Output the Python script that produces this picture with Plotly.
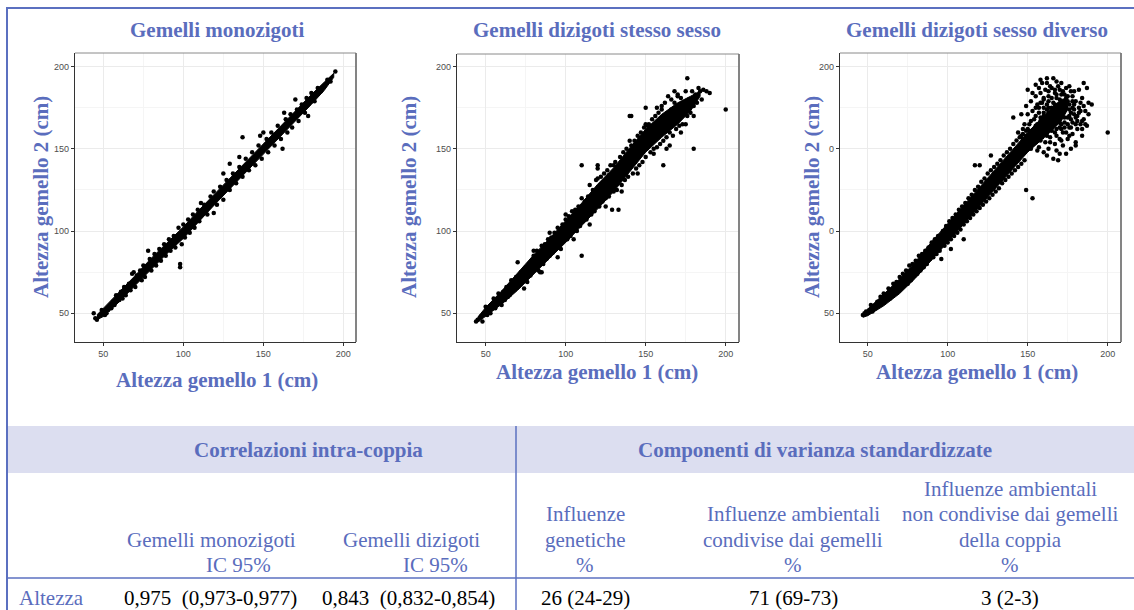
import plotly.graph_objects as go

W, H = 1134, 610

# ---------------- data ----------------
tick_vals = [50, 100, 150, 200]
tick_text_std = ["50", "100", "150", "200"]
tick_text_p3_y = ["50", "0", "0", "200"]

panel_titles = ["Gemelli monozigoti", "Gemelli dizigoti stesso sesso", "Gemelli dizigoti sesso diverso"]
x_title = "Altezza gemello 1 (cm)"
y_title = "Altezza gemello 2 (cm)"

# dense core of each cloud: x positions with lower / upper edge of the solid band
p1_band_x = [46, 50, 60, 70, 80, 90, 100, 110, 120, 130, 140, 150, 160, 170, 180, 188, 194]
p1_band_hi = [49, 53, 62.5, 73, 83.5, 93, 102.5, 113, 123, 133.5, 143.5, 153, 163.5, 173.5, 183, 190.5, 196]
p1_band_lo = [46, 48, 57, 67, 77, 86.5, 95.5, 106, 116.5, 126.5, 136.5, 146.5, 157, 167, 177, 185.5, 193.5]

p2_band_x = [45, 50, 60, 70, 80, 90, 100, 110, 120, 130, 140, 150, 160, 170, 178, 184]
p2_band_hi = [47.5, 53.5, 63.5, 74.5, 85.5, 95.5, 106, 117, 128.5, 138.5, 150.5, 162, 171, 178, 182, 185]
p2_band_lo = [44.5, 48.5, 55.5, 64, 73.5, 83.5, 93, 103, 113.5, 124, 136, 148, 157, 165, 173, 182]

p3_band_x = [47, 50, 60, 70, 80, 90, 100, 110, 120, 130, 140, 150, 158, 165, 171, 175]
p3_band_hi = [49.5, 52.5, 61.5, 71, 81.5, 93.5, 104.5, 115.5, 127, 138, 149, 160, 168, 175, 180, 181]
p3_band_lo = [47.5, 48.5, 54.5, 62, 71.5, 82.5, 93.5, 104.5, 115, 126, 137, 148, 155, 161, 167, 174]

# individual pairs (fringe and outliers)
p1_pts = [(44,50),(45,47),(46,46),(48,49),(49,52),(50,51),(51,49),(52,50),(53,52),(55,53),(56,57),(57,55),
          (58,61),(60,58),(61,63),(62,59),(63,66),(64,61),(66,68),(67,64),(68,74),(69,75),(70,66),(71,73),
          (73,76),(74,70),(75,79),(76,72),(78,88),(79,83),(80,76),(82,86),(83,79),(85,89),(86,82),(88,92),
          (89,85),(91,95),(92,88),(94,97),(95,90),(97,102),(98,80),(98,78),(99,92),(100,104),(101,96),
          (103,107),(104,99),(106,110),(107,102),(109,113),(110,106),(111,117),(113,116),(115,110),(117,121),
          (119,111),(119,124),(121,116),(123,127),(125,135),(125,119),(127,131),(129,141),(129,125),(131,135),
          (133,129),(135,145),(135,139),(137,157),(137,133),(139,144),(141,137),(143,148),(145,140),(147,152),
          (148,158),(150,160),(149,144),(152,156),(153,148),(155,160),(157,152),(159,164),(161,156),(162,150),
          (163,172),(164,168),(165,160),(167,171),(168,163),(170,180),(171,174),(172,167),(174,177),(176,172),
          (177,181),(178,170),(180,184),(182,179),(184,187),(186,185),(188,188),(190,192),(192,191),(195,197)]

p2_pts = [(44,45),(45,46),(47,48),(48,45),(49,50),(50,54),(51,49),(52,52),(53,50),(55,59),(56,53),(57,57),
          (58,62),(60,55),(61,63),(62,58),(63,66),(64,60),(65,61),(66,70),(67,64),(68,66),(69,72),(70,81),
          (71,67),(72,75),(73,70),(74,65),(75,78),(76,69),(77,80),(78,73),(80,85),(81,77),(82,88),(83,76),
          (84,75),(85,91),(86,80),(87,92),(88,83),(89,95),(90,85),(91,96),(92,87),(93,99),(94,89),(95,102),
          (96,90),(97,89),(98,104),(99,94),(100,107),(101,95),(102,109),(103,97),(104,112),(105,100),(106,113),
          (107,100),(108,115),(109,103),(110,140),(110,85),(111,106),(112,118),(113,107),(114,121),(115,128),
          (116,110),(117,125),(118,112),(119,131),(120,140),(120,138),(121,115),(122,133),(123,118),(124,135),
          (125,120),(126,137),(127,121),(128,140),(129,113),(130,124),(131,142),(132,125),(133,113),(134,145),
          (135,128),(136,148),(137,131),(138,150),(139,133),(140,170),(141,170),(141,152),(142,135),(143,155),
          (144,138),(145,158),(146,140),(147,160),(148,142),(149,163),(150,175),(150,145),(151,164),(152,165),
          (153,148),(154,168),(155,150),(156,170),(157,151),(158,172),(159,153),(160,176),(161,140),(161,155),
          (162,178),(163,157),(164,182),(165,160),(166,180),(167,158),(168,178),(169,162),(170,183),(171,164),
          (172,181),(173,165),(174,178),(175,185),(176,193),(176,170),(177,180),(178,172),(179,185),(180,150),
          (180,176),(181,183),(182,178),(183,187),(184,185),(185,180),(186,186),(188,185),(190,184),(200,174),
          (153,162),(156,160),(159,167),(162,164),(165,171),(168,168),(171,176),(174,172),(177,176),(180,170),
          (166,174),(163,168),(157,164),(147,155),(144,150),(139,145),(133,138),(127,134),(152,158),(158,160),
          (80,88),(85,75),(90,99),(95,84),(100,110),(105,95),(110,120),(115,104),(120,132),(125,115),
          (130,140),(135,124),(140,155),(145,135),(150,165),(155,147),(160,174),(165,152),(170,182),(175,165),
          (157,175),(163,150),(168,185),(172,160)]

p3_pts = [(47,49),(48,50),(49,51),(50,50),(51,52),(52,55),(53,51),(54,54),(55,53),(56,57),(57,55),(58,60),
          (59,56),(60,62),(61,58),(62,61),(63,65),(64,59),(65,63),(66,68),(67,62),(68,69),(69,64),(70,72),
          (71,66),(72,74),(73,67),(74,76),(75,68),(76,79),(77,70),(78,80),(79,73),(80,82),(81,74),(82,85),
          (83,76),(84,86),(85,78),(86,88),(87,80),(88,90),(89,83),(90,93),(91,84),(92,95),(93,86),(94,97),
          (95,88),(96,83),(97,100),(98,91),(99,103),(100,93),(101,106),(102,89),(102,95),(103,108),(104,97),
          (105,110),(106,99),(107,113),(108,101),(109,115),(110,95),(110,104),(111,117),(112,106),(113,120),
          (114,108),(115,122),(116,110),(117,140),(117,125),(118,112),(119,127),(120,140),(120,114),(121,130),
          (122,116),(123,132),(124,118),(125,135),(126,120),(127,146),(127,137),(128,122),(129,139),(130,124),
          (131,141),(132,126),(133,143),(134,129),(135,146),(136,131),(137,148),(138,133),(139,150),(140,135),
          (141,169),(141,153),(142,137),(143,155),(144,139),(145,157),(146,141),(147,159),(148,143),(149,125),
          (149,161),(153,120),
          (166,193),(185,190),(170,186),(172,185),(163,185),(168,183),(175,182),(178,182),(160,181),(165,181),
          (170,180),(173,179),(180,179),(183,178),(188,178),(158,178),(162,177),(167,177),(176,177),(185,176),
          (155,175),(160,175),(165,175),(170,175),(174,175),(179,174),(153,173),(157,172),(163,172),(168,172),
          (172,172),(177,172),(182,172),(188,171),(150,171),(155,170),(160,170),(166,170),(170,169),(175,169),
          (180,169),(185,168),(152,167),(158,167),(163,167),(168,166),(173,166),(178,166),(183,165),(148,165),
          (155,164),(160,164),(165,163),(170,163),(176,163),(181,162),(150,162),(157,161),(162,160),(167,160),
          (172,160),(178,159),(184,158),(153,158),(159,157),(164,157),(170,156),(175,156),(180,154),(147,156),
          (155,154),(161,154),(167,153),(172,152),(180,152),(157,151),(163,150),(168,149),(160,148),(174,147),
          (166,144),(169,143),(200,160),(187,187),(190,177),(182,186),(176,188),(171,190),(169,188),(164,188),
          (161,186),(158,184),(155,182),(152,179),(149,176),(146,171),(177,185),(173,183),(157,187),(162,190),
          (159,190),(167,186),(174,187),(179,185),(184,181),(186,173),(182,175),(179,177),(181,167),(184,162),
          (176,158),(171,155),(164,154),(158,155),(152,155),(151,165),(154,168),(156,177),(163,179),(150,158),
          (145,151),(143,147),(147,162),(144,160),(152,150),(156,149),(162,146),(170,147),(177,150),(186,165),
          (156,165),(158,169),(160,172),(161,166),(163,175),(164,170),(166,166),(166,178),(167,173),(168,181),
          (169,170),(170,177),(171,165),(172,174),(173,169),(174,181),(175,165),(176,174),(177,168),(178,179),
          (159,162),(162,158),(165,161),(168,158),(171,162),(174,160),(177,163),(160,180),(163,182),(167,184),
          (171,183),(175,179),(179,171),(157,175),(161,169),(164,166),(169,174),(172,178),(176,170),(170,166),
          (165,168),(162,174),(159,178),(173,163),(168,162),(158,158),(154,160),(151,161),(149,158),(146,158),
          (150,186),(153,184),(155,189),(158,192),(162,193),(165,187),(168,191),(178,175),(181,170),(184,167),
          (187,164),(183,173),(180,165)]

table_head = ["Correlazioni intra-coppia", "Componenti di varianza standardizzate"]
row_label = "Altezza"
corr_cols = [("Gemelli monozigoti", "IC 95%"), ("Gemelli dizigoti", "IC 95%")]
corr_vals = ["0,975  (0,973-0,977)", "0,843  (0,832-0,854)"]
var_cols = [["Influenze", "genetiche", "%"],
            ["Influenze ambientali", "condivise dai gemelli", "%"],
            ["Influenze ambientali", "non condivise dai gemelli", "della coppia", "%"]]
var_vals = ["26 (24-29)", "71 (69-73)", "3 (2-3)"]

# ---------------- layout helpers ----------------
BLUE = "#5a6dbd"
SERIF = "Liberation Serif, Times New Roman, serif"
SANS = "Liberation Sans, Arial, sans-serif"


def px(x):
    return x / W


def py(y):
    return 1 - y / H


panels = [
    dict(dx=(75, 356), dy=(53, 342), xr=(32.3, 207.9), yr=(32.5, 208.3),
         band=(p1_band_x, p1_band_lo, p1_band_hi), pts=p1_pts, ytt=tick_text_std,
         title_xy=(217, 30), ytitle_x=41, xtitle_y=380, xtitle_x=217),
    dict(dx=(457, 739), dy=(54, 342), xr=(32.1, 208.3), yr=(32.5, 207.7),
         band=(p2_band_x, p2_band_lo, p2_band_hi), pts=p2_pts, ytt=tick_text_std,
         title_xy=(597, 30), ytitle_x=409, xtitle_y=372, xtitle_x=597),
    dict(dx=(840, 1121), dy=(53, 342), xr=(32.7, 208.3), yr=(32.5, 208.3),
         band=(p3_band_x, p3_band_lo, p3_band_hi), pts=p3_pts, ytt=tick_text_p3_y,
         title_xy=(977, 30), ytitle_x=812, xtitle_y=372, xtitle_x=977),
]

fig = go.Figure()
layout = dict(width=W, height=H, margin=dict(l=0, r=0, t=0, b=0),
              paper_bgcolor="white", plot_bgcolor="white", showlegend=False)
annotations = []
shapes = []


def ann(text, x, y, color=BLUE, bold=False, size=21, angle=0):
    t = f"<b>{text}</b>" if bold else text
    annotations.append(dict(text=t, x=px(x), y=py(y), xref="paper", yref="paper", showarrow=False,
                            xanchor="center", yanchor="middle", textangle=angle,
                            font=dict(family=SERIF, size=size, color=color)))


for i, p in enumerate(panels, start=1):
    xa = "x" if i == 1 else f"x{i}"
    ya = "y" if i == 1 else f"y{i}"
    bx, blo, bhi = p["band"]
    fig.add_trace(go.Scatter(x=bx + bx[::-1], y=bhi + blo[::-1], fill="toself",
                             fillcolor="black", line=dict(color="black", width=1),
                             mode="lines", xaxis=xa, yaxis=ya, hoverinfo="skip"))
    fig.add_trace(go.Scatter(x=[a for a, b in p["pts"]], y=[b for a, b in p["pts"]],
                             mode="markers", marker=dict(color="black", size=4.5),
                             xaxis=xa, yaxis=ya))
    common = dict(tickvals=tick_vals, ticks="outside", ticklen=3, tickwidth=1, tickcolor="#333",
                  tickfont=dict(size=9, color="#4d4d4d", family=SANS),
                  showgrid=True, gridcolor="#ebebeb", gridwidth=1,
                  minor=dict(dtick=25, tick0=0, showgrid=True, gridcolor="#f5f5f5", gridwidth=1),
                  showline=True, linecolor="#333", linewidth=1.3, zeroline=False, fixedrange=True)
    layout["xaxis" if i == 1 else f"xaxis{i}"] = dict(
        domain=[px(p["dx"][0]), px(p["dx"][1])], range=list(p["xr"]), anchor=ya,
        ticktext=tick_text_std, **common)
    layout["yaxis" if i == 1 else f"yaxis{i}"] = dict(
        domain=[py(p["dy"][1]), py(p["dy"][0])], range=list(p["yr"]), anchor=xa,
        ticktext=p["ytt"], **common)
    # top / right frame
    shapes.append(dict(type="line", xref="paper", yref="paper",
                       x0=px(p["dx"][0]), x1=px(p["dx"][1]), y0=py(p["dy"][0]), y1=py(p["dy"][0]),
                       line=dict(color="#8a8a8a", width=1)))
    shapes.append(dict(type="line", xref="paper", yref="paper",
                       x0=px(p["dx"][1]), x1=px(p["dx"][1]), y0=py(p["dy"][0]), y1=py(p["dy"][1]),
                       line=dict(color="#777777", width=1.8)))
    tx, ty = p["title_xy"]
    ann(panel_titles[i - 1], tx, ty, bold=True)
    ann(x_title, p["xtitle_x"], p["xtitle_y"], bold=True)
    ann(y_title, p["ytitle_x"], 197, bold=True, angle=-90)

# outer blue frame
shapes.append(dict(type="line", xref="paper", yref="paper", x0=px(6), x1=1, y0=py(8), y1=py(8),
                   line=dict(color="#5b70c0", width=2)))
shapes.append(dict(type="line", xref="paper", yref="paper", x0=px(7), x1=px(7), y0=py(8), y1=0,
                   line=dict(color="#5b70c0", width=2)))
# table
shapes.append(dict(type="rect", xref="paper", yref="paper", x0=px(8), x1=1, y0=py(473), y1=py(426),
                   fillcolor="#dcdef0", line=dict(width=0), layer="below"))
shapes.append(dict(type="line", xref="paper", yref="paper", x0=px(516), x1=px(516), y0=py(426), y1=0,
                   line=dict(color="#5b70c0", width=1.5)))
shapes.append(dict(type="line", xref="paper", yref="paper", x0=px(8), x1=1, y0=py(578), y1=py(578),
                   line=dict(color="#5b70c0", width=1.5)))

ann(table_head[0], 308, 450, bold=True)
ann(table_head[1], 815, 450, bold=True)
ann(corr_cols[0][0], 211, 540)
ann(corr_cols[0][1], 238, 565)
ann(corr_cols[1][0], 411, 540)
ann(corr_cols[1][1], 435, 565)
var_x = [585, 793, 1010]
for cx, lines in zip(var_x, var_cols):
    n = len(lines)
    for k, line in enumerate(lines):
        ann(line, cx, 565 - (n - 1 - k) * 25.3)
ann(row_label, 51, 598)
ann(corr_vals[0], 210, 598, color="black")
ann(corr_vals[1], 408, 598, color="black")
for cx, v in zip(var_x, var_vals):
    ann(v, cx, 598, color="black")

layout["annotations"] = annotations
layout["shapes"] = shapes
fig.update_layout(**layout)
fig.write_html("out.html", config={"displayModeBar": False},
               post_script="document.body.style.margin='0';")
